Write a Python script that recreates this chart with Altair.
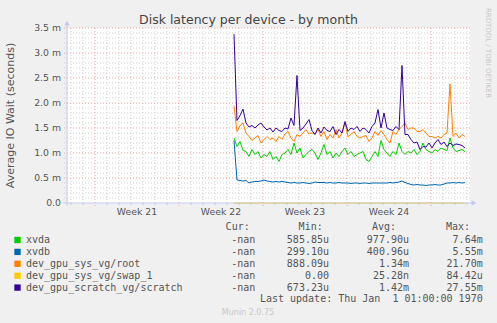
import json
import altair as alt
import pandas as pd

# ---------------- data ----------------
title_text = "Disk latency per device - by month"
y_title = "Average IO Wait (seconds)"
week_labels = ["Week 21", "Week 22", "Week 23", "Week 24"]
week_label_pos = [3.5, 10.5, 17.5, 24.5]          # days (mid-week)
week_grid = [0, 7, 14, 21, 28]                     # days (week boundaries)
day_grid = [d for d in range(-2, 32) if d % 7 != 0]
y_major = [0.5, 1.0, 1.5, 2.0, 2.5, 3.0, 3.5]      # milliseconds
y_minor = [round(v / 10, 1) for v in range(1, 35) if v % 5 != 0]
y_tick_values = [0.0, 0.5, 1.0, 1.5, 2.0, 2.5, 3.0, 3.5]
y_tick_labels = ["0.0", "0.5 m", "1.0 m", "1.5 m", "2.0 m", "2.5 m", "3.0 m", "3.5 m"]

series_names = ["xvda", "xvdb", "dev_gpu_sys_vg/root",
                "dev_gpu_sys_vg/swap_1", "dev_gpu_scratch_vg/scratch"]
series_colors = ["#00cc00", "#0066b3", "#ff8000", "#ffcc00", "#330099"]

start_day = 11.583
step_day = 0.25

xvda = [1.3, 1.13, 1.23, 1.05, 1.03, 0.93, 1.07, 0.97, 1.03, 0.9, 0.97, 0.93, 1.03, 0.87,
        0.93, 0.83, 0.97, 1.0, 1.07, 0.97, 1.2, 1.0, 1.1, 0.9, 0.97, 1.03, 1.07,
        1.0, 0.87, 1.0, 1.17, 0.97, 1.03, 0.9, 1.0, 0.93, 1.03, 1.1, 0.97, 1.03, 0.93,
        0.97, 1.0, 1.03, 0.87, 0.83, 0.93, 1.03, 0.93, 1.25, 1.07,
        1.0, 0.93, 1.03, 0.97, 1.2, 1.03, 0.97, 1.03, 1.0, 1.07, 0.97, 1.03, 1.2, 1.07,
        1.03, 1.0, 1.07, 1.03, 1.1, 1.07, 1.05, 1.3, 1.1, 1.03, 1.05, 1.07, 1.03]
xvdb = [1.25, 0.46, 0.45, 0.44, 0.45, 0.4, 0.42, 0.43, 0.43, 0.44, 0.46, 0.44, 0.43, 0.42,
        0.43, 0.42, 0.43, 0.42, 0.41, 0.4, 0.41, 0.4, 0.4, 0.41, 0.4, 0.39, 0.4,
        0.42, 0.41, 0.41, 0.41, 0.4, 0.41, 0.4, 0.4, 0.41, 0.4, 0.4, 0.4, 0.39, 0.4,
        0.4, 0.39, 0.4, 0.4, 0.39, 0.4, 0.4, 0.4, 0.4, 0.4,
        0.4, 0.41, 0.4, 0.41, 0.42, 0.44, 0.41, 0.39, 0.37, 0.36, 0.37, 0.36, 0.36, 0.35,
        0.36, 0.36, 0.37, 0.36, 0.36, 0.38, 0.4, 0.4, 0.41, 0.4, 0.41, 0.4, 0.41]
root = [1.95, 1.43, 1.55, 1.6, 1.4, 1.33, 1.25, 1.3, 1.35, 1.2, 1.27, 1.33, 1.27, 1.3,
        1.23, 1.33, 1.27, 1.38, 1.43, 1.3, 1.23, 1.37, 1.33, 1.4, 1.47, 1.38, 1.4,
        1.38, 1.47, 1.33, 1.43, 1.27, 1.37, 1.3, 1.47, 1.3, 1.4, 1.6, 1.33, 1.37, 1.43,
        1.33, 1.3, 1.33, 1.35, 1.23, 1.3, 1.43, 1.35, 1.45, 1.37,
        1.27, 1.2, 1.43, 1.37, 1.47, 1.53, 1.6, 1.47, 1.5, 1.5, 1.43, 1.43, 1.47, 1.4,
        1.33, 1.33, 1.3, 1.33, 1.3, 1.37, 1.4, 2.38, 1.33, 1.4, 1.3, 1.37, 1.33]
swap_1 = [0.0, 0.0, 0.0, 0.0, 0.0, 0.0, 0.0, 0.0, 0.0, 0.0, 0.0, 0.0, 0.0, 0.0,
          0.0, 0.0, 0.0, 0.0, 0.0, 0.0, 0.0, 0.0, 0.0, 0.0, 0.0, 0.0, 0.0,
          0.0, 0.0, 0.0, 0.0, 0.0, 0.0, 0.0, 0.0, 0.0, 0.0, 0.0, 0.0, 0.0, 0.0,
          0.0, 0.0, 0.0, 0.0, 0.0, 0.0, 0.0, 0.0, 0.0, 0.0,
          0.0, 0.0, 0.0, 0.0, 0.0, 0.0, 0.0, 0.0, 0.0, 0.0, 0.0, 0.0, 0.0, 0.0,
          0.0, 0.0, 0.0, 0.0, 0.0, 0.0, 0.0, 0.0, 0.0, 0.0, 0.0, 0.0, 0.0]
scratch = [3.38, 1.65, 1.75, 1.88, 1.6, 1.52, 1.55, 1.5, 1.56, 1.6, 1.52, 1.46, 1.5, 1.42,
           1.5, 1.45, 1.43, 1.5, 1.48, 1.7, 1.55, 2.55, 1.45, 1.5, 1.58, 1.67, 1.45,
           1.37, 1.5, 1.4, 1.52, 1.45, 1.43, 1.53, 1.37, 1.47, 1.4, 1.63, 1.43, 1.5, 1.47,
           1.53, 1.43, 1.5, 1.47, 1.4, 1.53, 1.6, 1.87, 1.5, 1.8,
           1.5, 1.47, 1.45, 1.53, 1.47, 2.75, 1.37, 1.37, 1.27, 1.2, 1.22, 1.07, 1.13, 1.12,
           1.2, 1.1, 1.2, 1.27, 1.17, 1.22, 1.13, 1.2, 1.15, 1.18, 1.17, 1.15, 1.1]
series_values = [xvda, xvdb, root, swap_1, scratch]

cur_vals = ["-nan", "-nan", "-nan", "-nan", "-nan"]
min_vals = ["585.85u", "299.10u", "888.09u", "0.00", "673.23u"]
avg_vals = ["977.90u", "400.96u", "1.34m", "25.28n", "1.42m"]
max_vals = ["7.64m", "5.55m", "21.70m", "84.42u", "27.55m"]
headers = ["Cur:", "Min:", "Avg:", "Max:"]
last_update = "Last update: Thu Jan \u00a01 01:00:00 1970"
footer = "Munin 2.0.75"
watermark = "RRDTOOL / TOBI OETIKER"

# ---------------- layout ----------------
W, H = 403, 175
FONT = "DejaVu Sans"
MONO = "DejaVu Sans Mono"
TXT = "#555555"
AXIS_C = "#c4c8f0"

xs = alt.Scale(domain=[-2.333, 31.25], nice=False, zero=False)
ys = alt.Scale(domain=[0, 3.5], nice=False, zero=True)

layers = []

# grid lines
vminor = alt.Chart(pd.DataFrame({"d": day_grid})).mark_rule(
    color="#d0d0d0", strokeWidth=1, strokeDash=[1, 2]).encode(
    x=alt.X("d:Q", scale=xs, axis=None), y=alt.value(0), y2=alt.value(H))
vmajor = alt.Chart(pd.DataFrame({"d": week_grid})).mark_rule(
    color="#f0a0a0", strokeWidth=1, strokeDash=[1, 2]).encode(
    x=alt.X("d:Q", scale=xs, axis=None), y=alt.value(0), y2=alt.value(H + 3))
hminor = alt.Chart(pd.DataFrame({"v": y_minor})).mark_rule(
    color="#d0d0d0", strokeWidth=1, strokeDash=[1, 2]).encode(
    y=alt.Y("v:Q", scale=ys, axis=None), x=alt.value(-3), x2=alt.value(W))
hmajor = alt.Chart(pd.DataFrame({"v": y_major})).mark_rule(
    color="#f0a0a0", strokeWidth=1, strokeDash=[1, 2]).encode(
    y=alt.Y("v:Q", scale=ys, axis=None), x=alt.value(-3), x2=alt.value(W))
vticks = alt.Chart(pd.DataFrame({"d": day_grid})).mark_rule(
    color="#c8c8c8", strokeWidth=1).encode(
    x=alt.X("d:Q", scale=xs, axis=None), y=alt.value(H), y2=alt.value(H + 2))
layers += [vminor, hminor, vmajor, hmajor, vticks]

# axis labels (drawn through the scales)
layers.append(alt.Chart(pd.DataFrame({"p": week_label_pos, "t": week_labels})).mark_text(
    align="center", baseline="top", font=FONT, fontSize=9.3, color=TXT).encode(
    x=alt.X("p:Q", scale=xs, axis=None), y=alt.value(H + 5), text="t:N"))
layers.append(alt.Chart(pd.DataFrame({"v": y_tick_values, "t": y_tick_labels})).mark_text(
    align="right", baseline="middle", font=FONT, fontSize=9.3, color=TXT).encode(
    y=alt.Y("v:Q", scale=ys, axis=None), x=alt.value(-6), text="t:N"))

# series lines
for name, color, vals in zip(series_names, series_colors, series_values):
    df = pd.DataFrame({"day": [start_day + step_day * k for k in range(len(vals))],
                       "ms": vals})
    layers.append(alt.Chart(df).mark_line(strokeWidth=1, color=color).encode(
        x=alt.X("day:Q", scale=xs, axis=None),
        y=alt.Y("ms:Q", scale=ys, axis=None)))

# axis lines with arrows
layers += [
    alt.Chart(pd.DataFrame({"a": [0]})).mark_rule(color=AXIS_C, strokeWidth=1).encode(
        x=alt.value(-4), x2=alt.value(W + 2), y=alt.value(H)),
    alt.Chart(pd.DataFrame({"a": [0]})).mark_rule(color=AXIS_C, strokeWidth=1).encode(
        y=alt.value(H + 3), y2=alt.value(-4), x=alt.value(0)),
    alt.Chart(pd.DataFrame({"a": [0]})).mark_point(
        shape="triangle-right", filled=True, size=30, color=AXIS_C, opacity=1).encode(
        x=alt.value(W + 4), y=alt.value(H)),
    alt.Chart(pd.DataFrame({"a": [0]})).mark_point(
        shape="triangle-up", filled=True, size=30, color=AXIS_C, opacity=1).encode(
        x=alt.value(0), y=alt.value(-5)),
]

# texts
def text_layer(text, x, y, align="left", baseline="middle", font=FONT, size=10,
               color=TXT, angle=0):
    kw = dict(align=align, baseline=baseline, font=font, fontSize=size, color=color)
    if angle:
        kw["angle"] = angle
    return alt.Chart(pd.DataFrame({"t": [text]})).mark_text(**kw).encode(
        text="t:N", x=alt.value(x), y=alt.value(y))

layers.append(text_layer(title_text, 181.5, -4.5, align="center", baseline="alphabetic",
                         size=12.5, color="#444444"))
layers.append(text_layer(y_title, -56, 87.5, align="center", size=11, angle=270))
layers.append(text_layer(watermark, 420.5, 25, align="center", size=7,
                         color="#c8c8c8", angle=90))

# legend table
leg = pd.DataFrame({"name": series_names, "cur": cur_vals, "min": min_vals,
                    "avg": avg_vals, "max": max_vals, "row": list(range(5))})
leg_base = alt.Chart(leg).transform_calculate(py="212 + datum.row * 11.9")
ypix = alt.Y("py:Q", scale=None, axis=None)
layers.append(leg_base.mark_square(size=40, opacity=1).encode(
    x=alt.value(-49.5), y=ypix,
    color=alt.Color("name:N", scale=alt.Scale(domain=series_names, range=series_colors),
                    legend=None)))
layers.append(leg_base.mark_text(align="left", baseline="middle", font=MONO, fontSize=10,
                                 color=TXT).encode(text="name:N", x=alt.value(-41), y=ypix))
for col, xr in zip(["cur", "min", "avg", "max"], [188.3, 262, 342, 415.7]):
    layers.append(leg_base.mark_text(align="right", baseline="middle", font=MONO,
                                     fontSize=10, color=TXT).encode(
        text=f"{col}:N", x=alt.value(xr), y=ypix))
for h, xr in zip(headers, [182.7, 255.7, 329, 403]):
    layers.append(text_layer(h, xr, 198.7, align="right", font=MONO))
layers.append(text_layer(last_update, 415.7, 271.3, align="right", font=MONO))
layers.append(text_layer(footer, 181, 284.5, align="center", size=8, color="#c8c8c8"))

chart = alt.layer(*layers).properties(
    width=W, height=H,
    autosize=alt.AutoSizeParams(type="none"),
    padding={"left": 67, "top": 28, "right": 27, "bottom": 120},
    background="#f0f0f0",
).configure_view(fill="white", stroke=None)

chart.save("out.html", embed_options={"renderer": "svg", "actions": False})
